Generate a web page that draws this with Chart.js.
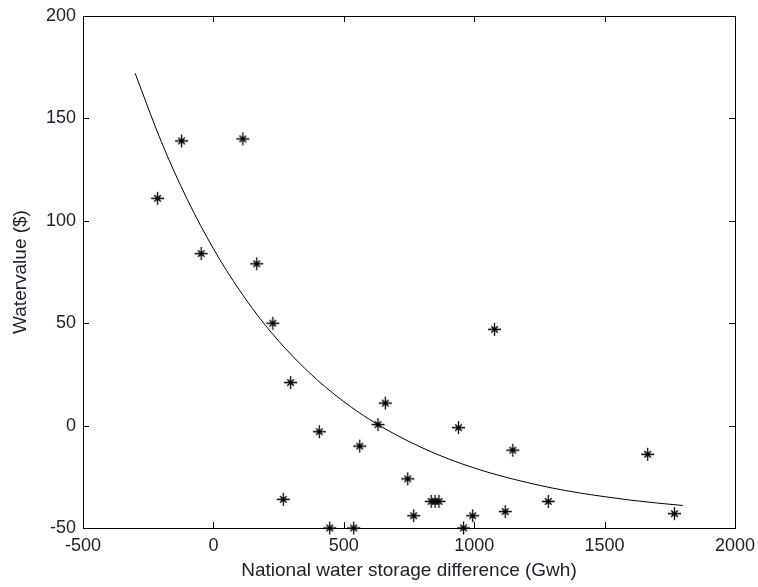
<!DOCTYPE html>
<html>
<head>
<meta charset="utf-8">
<script src="https://cdn.jsdelivr.net/npm/chart.js@4/dist/chart.umd.min.js"></script>
<style>
  html, body { margin: 0; padding: 0; background: #fff; }
  #wrap { width: 758px; height: 587px; }
</style>
</head>
<body>
<div id="wrap"><canvas id="chart" width="758" height="587"></canvas></div>
<script>
// Observed points (storage difference vs water value)
const storageDiff = [-214, -122, 113, -47, 166, 228, 296, 406, 561, 659, 631, 940, 1078, 1148,
  745, 268, 446, 538, 768, 835, 850, 865, 994, 959, 1119, 1284, 1665, 1768];
const waterValue = [111, 139, 140, 84, 79, 50, 21, -3, -10, 11, 0.5, -1, 47, -12,
  -26, -36, -50, -50, -44, -37, -37, -37, -44, -50, -42, -37, -14, -43];

// Fitted curve
const curveX = [-300, -200, -100, 0, 100, 200, 300, 400, 500, 600, 700, 800, 900, 1000,
  1100, 1200, 1300, 1400, 1500, 1600, 1700, 1800];
const curveY = [172, 138.7, 110.4, 86.4, 66.1, 48.9, 34.4, 22.1, 11.7, 2.9, -4.5, -10.8, -16.2, -20.7,
  -24.5, -27.7, -30.5, -32.8, -34.7, -36.4, -37.8, -39.0];

const xTicks = [-500, 0, 500, 1000, 1500, 2000];
const yTicks = [-50, 0, 50, 100, 150, 200];

const textColor = '#202030';
const tickFont = { family: 'Liberation Sans, Arial, sans-serif', size: 18 };
const titleFont = { family: 'Liberation Sans, Arial, sans-serif', size: 19 };

// asterisk marker like matlab '*'
function makeStar() {
  const c = document.createElement('canvas');
  c.width = 15; c.height = 15;
  const g = c.getContext('2d');
  g.strokeStyle = '#000';
  g.lineWidth = 1.3;
  g.beginPath();
  g.moveTo(7.5, 1); g.lineTo(7.5, 14);
  g.moveTo(1, 7.5); g.lineTo(14, 7.5);
  g.moveTo(4.2, 4.2); g.lineTo(10.8, 10.8);
  g.moveTo(10.8, 4.2); g.lineTo(4.2, 10.8);
  g.stroke();
  g.fillStyle = '#000';
  g.beginPath();
  g.arc(7.5, 7.5, 2, 0, Math.PI * 2);
  g.fill();
  return c;
}

// box + inward ticks
const boxPlugin = {
  id: 'box',
  afterDraw(chart) {
    const ctx = chart.ctx;
    const a = chart.chartArea;
    const xs = chart.scales.x, ys = chart.scales.y;
    const len = 6;
    ctx.save();
    ctx.strokeStyle = '#000';
    ctx.lineWidth = 1;
    ctx.strokeRect(a.left + 0.5, a.top + 0.5, a.right - a.left, a.bottom - a.top);
    ctx.beginPath();
    xTicks.forEach(v => {
      const px = Math.round(xs.getPixelForValue(v)) + 0.5;
      ctx.moveTo(px, a.bottom); ctx.lineTo(px, a.bottom - len);
      ctx.moveTo(px, a.top); ctx.lineTo(px, a.top + len);
    });
    yTicks.forEach(v => {
      const py = Math.round(ys.getPixelForValue(v)) + 0.5;
      ctx.moveTo(a.left, py); ctx.lineTo(a.left + len, py);
      ctx.moveTo(a.right, py); ctx.lineTo(a.right - len, py);
    });
    ctx.stroke();
    ctx.restore();
  }
};

const points = storageDiff.map((x, i) => ({ x: x, y: waterValue[i] }));
const curve = curveX.map((x, i) => ({ x: x, y: curveY[i] }));

new Chart(document.getElementById('chart').getContext('2d'), {
  type: 'scatter',
  data: {
    datasets: [
      {
        data: points,
        pointStyle: makeStar(),
        pointRadius: 7,
        showLine: false,
        clip: false
      },
      {
        data: curve,
        showLine: true,
        borderColor: '#000',
        borderWidth: 1,
        pointRadius: 0,
        cubicInterpolationMode: 'monotone'
      }
    ]
  },
  options: {
    responsive: false,
    animation: false,
    layout: { padding: { top: 16, right: 23, left: 0, bottom: 0 } },
    plugins: { legend: { display: false }, tooltip: { enabled: false } },
    scales: {
      x: {
        type: 'linear',
        min: -500, max: 2000,
        afterFit(s) { s.height = 59; s.paddingLeft = 0; s.paddingRight = 0; },
        afterBuildTicks(s) { s.ticks = xTicks.map(v => ({ value: v })); },
        grid: { display: false, drawTicks: false },
        border: { display: false },
        ticks: { color: textColor, font: tickFont, padding: 7, maxRotation: 0, callback: v => String(v) },
        title: { display: true, text: 'National water storage difference (Gwh)', color: textColor, font: titleFont, padding: { top: 2, bottom: 5 } }
      },
      y: {
        type: 'linear',
        min: -50, max: 200,
        afterFit(s) { s.width = 83; s.paddingTop = 0; s.paddingBottom = 0; },
        afterBuildTicks(s) { s.ticks = yTicks.map(v => ({ value: v })); },
        grid: { display: false, drawTicks: false },
        border: { display: false },
        ticks: { color: textColor, font: tickFont, padding: 7, callback: v => String(v) },
        title: { display: true, text: 'Watervalue ($)', color: textColor, font: titleFont, padding: { top: 9, bottom: 2 } }
      }
    }
  },
  plugins: [boxPlugin]
});
</script>
</body>
</html>
